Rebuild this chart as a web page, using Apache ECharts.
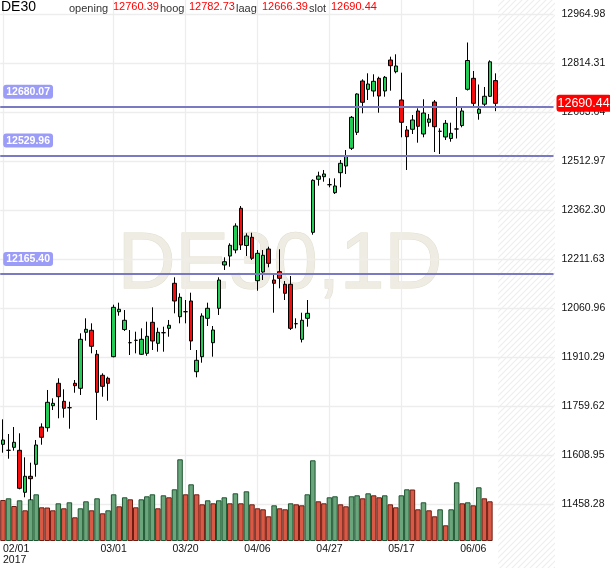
<!DOCTYPE html>
<html><head><meta charset="utf-8">
<script src="https://cdn.jsdelivr.net/npm/echarts@6/dist/echarts.min.js"></script>
<style>html,body{margin:0;padding:0;background:#fff}#c{width:610px;height:568px}</style>
</head><body><div id="c"></div>
<script>
const symbolName = 'DE30';
const timeframe = '1D';
const year = '2017';
const dates = [
'02/01','02/02','02/03','02/06','02/07','02/08','02/09','02/10','02/13','02/14',
'02/15','02/16','02/17','02/20','02/21','02/22','02/23','02/24','02/27','02/28',
'03/01','03/02','03/03','03/06','03/07','03/08','03/09','03/10','03/13','03/14',
'03/15','03/16','03/17','03/20','03/21','03/22','03/23','03/24','03/27','03/28',
'03/29','03/30','03/31','04/03','04/04','04/05','04/06','04/07','04/10','04/11',
'04/12','04/13','04/18','04/19','04/20','04/21','04/24','04/25','04/26','04/27',
'04/28','05/02','05/03','05/04','05/05','05/08','05/09','05/10','05/11','05/12',
'05/15','05/16','05/17','05/18','05/19','05/22','05/23','05/24','05/25','05/26',
'05/29','05/30','05/31','06/01','06/02','06/06','06/07','06/08','06/09','06/12'];
const futureSlots = ['','','','','','','','','',''];
const opens = [
11641.6,11623.2,11632.4,11623.2,11494.0,11543.2,11580.1,11694.8,11692.7,11760.4,
11829.3,11773.9,11754.2,11829.3,11813.9,11986.1,11992.3,11918.5,11853.9,11844.7,
11911.1,12049.5,11994.8,11954.2,11961.5,11918.5,11921.5,12016.9,11952.3,11984.9,
11998.4,12136.9,12034.1,12049.5,12082.4,11865.0,11911.1,12029.2,11954.2,12060.0,
12193.2,12220.8,12239.3,12367.6,12253.1,12278.4,12144.9,12171.6,12242.4,12147.0,
12172.6,12133.8,12133.8,12012.6,11964.6,12029.2,12293.7,12456.8,12464.8,12440.2,
12415.6,12477.1,12497.7,12552.1,12601.3,12759.1,12733.6,12728.4,12767.4,12728.4,
12823.7,12787.8,12700.7,12608.4,12610.6,12666.9,12596.1,12632.1,12694.5,12604.4,
12586.9,12582.3,12611.5,12622.3,12733.6,12767.4,12659.8,12687.8,12712.1,12760.39];
const highs = [
11718.5,11673.3,11694.8,11675.5,11601.6,11585.0,11654.9,11706.2,11808.7,11783.1,
11844.7,11810.8,11772.7,11839.4,11983.1,12029.2,12013.8,11931.7,11860.0,11849.6,
12071.0,12077.2,12054.7,11993.2,11988.0,11998.4,12018.8,12063.0,12000.3,12003.4,
12024.0,12155.3,12106.1,12085.5,12108.0,11931.7,12044.6,12077.2,12005.5,12155.3,
12216.8,12259.9,12321.4,12374.6,12290.7,12292.5,12239.3,12239.3,12249.4,12167.6,
12241.5,12143.9,12159.3,12029.2,12046.4,12085.5,12456.8,12480.2,12485.4,12459.8,
12459.8,12516.1,12546.9,12651.5,12721.3,12764.4,12782.8,12779.8,12772.4,12774.5,
12833.9,12841.3,12784.7,12620.7,12654.6,12675.2,12702.9,12657.6,12700.7,12613.7,
12639.2,12630.9,12709.9,12678.2,12877.6,12789.9,12748.4,12740.7,12822.8,12782.73];
const lows = [
11615.8,11597.3,11622.0,11503.2,11478.6,11470.3,11542.0,11640.4,11680.4,11747.1,
11721.6,11723.5,11689.6,11800.3,11793.3,11960.3,11921.5,11716.4,11788.1,11775.7,
11909.2,12037.2,11990.1,11916.3,11921.5,11916.3,11914.0,11931.7,11926.5,11926.5,
11972.6,12044.6,12013.8,12013.8,11931.7,11847.7,11892.6,12005.5,11911.1,12039.4,
12177.8,12187.9,12229.2,12239.3,12220.8,12208.5,12114.1,12147.0,12186.1,12046.4,
12121.5,12085.5,11993.2,11998.4,11955.0,12003.4,12286.4,12437.1,12449.4,12432.2,
12411.6,12432.2,12473.1,12546.9,12593.0,12659.8,12700.7,12710.9,12661.6,12710.9,
12729.3,12782.8,12586.0,12485.4,12596.1,12569.4,12586.0,12618.6,12540.7,12534.6,
12577.7,12572.4,12582.3,12616.7,12729.9,12681.3,12640.1,12681.3,12709.9,12666.39];
const closes = [
11654.9,11623.2,11647.8,11506.3,11543.2,11535.8,11639.5,11663.2,11770.8,11767.7,
11788.1,11752.4,11754.2,11821.9,11964.6,11995.4,11943.1,11801.6,11820.0,11829.3,
12063.0,12056.9,12023.1,11954.2,11961.5,11964.6,11973.8,11959.4,11986.1,11984.9,
12007.7,12082.4,12093.8,12049.5,11959.4,11900.0,12036.3,12060.0,11993.2,12147.0,
12203.3,12253.8,12313.1,12254.7,12282.4,12213.8,12229.1,12223.0,12198.4,12136.9,
12152.2,12106.1,11998.4,12012.6,12023.1,12044.6,12453.7,12466.9,12473.1,12440.2,
12436.2,12506.0,12528.4,12647.5,12719.2,12693.6,12749.9,12758.2,12713.0,12770.5,
12806.2,12805.3,12632.1,12587.8,12639.2,12619.8,12660.7,12642.3,12618.6,12604.4,
12629.0,12598.3,12611.5,12666.9,12822.2,12690.5,12672.4,12712.1,12818.2,12690.44];
const volumes = [
4100,4270,3500,4070,3070,4170,4670,3370,3350,3070,
3770,3270,3870,2370,3270,3970,3070,4270,2770,3070,
4670,3470,4370,4170,3370,4170,4470,4670,3270,4570,
4370,5170,8170,4670,5670,4670,3670,4070,3770,4070,
4370,3770,4770,3770,4970,3670,3270,3170,2470,3570,
3270,3170,3770,3670,3570,4670,8070,3970,3770,4370,
4470,3670,3470,4470,4570,4270,4770,4570,4370,4570,
3670,3370,4570,5170,5150,3170,3870,3070,2470,3170,
1570,3170,5870,3770,3870,3570,5370,4270,3970];
const levelLines = [12680.07, 12529.96, 12165.40];
const priceTicks = [11458.28,11608.95,11759.62,11910.29,12060.96,12211.63,12362.30,12512.97,12663.64,12814.31,12964.98];
const labelDates = ['02/01','03/01','03/20','04/06','04/27','05/17','06/06'];

const FONT = 'Liberation Sans, Arial, sans-serif';
const categories = dates.concat(futureSlots);
const candleData = dates.map((d, i) => [opens[i], closes[i], lows[i], highs[i]]);
const volData = volumes.map((v, i) => {
  const up = i > 0 && v > volumes[i - 1];
  return {value: v, itemStyle: up ? {color: '#6ba57c', borderColor: '#1d5530'} : {color: '#d85a46', borderColor: '#6e1c12'}};
});
const last = dates.length - 1;

const chart = echarts.init(document.getElementById('c'), null, {renderer: 'canvas'});

function headerItems() {
  const items = [
    {t: symbolName, x: 1, y: 7.5, size: 14, fill: '#000'},
    {t: 'opening', x: 69, y: 9.4, size: 11, fill: '#333'},
    {t: opens[last].toFixed(2), x: 113, y: 6.8, size: 11, fill: '#ff0000'},
    {t: 'hoog', x: 160, y: 9.4, size: 11, fill: '#333'},
    {t: highs[last].toFixed(2), x: 189, y: 6.8, size: 11, fill: '#ff0000'},
    {t: 'laag', x: 236, y: 9.4, size: 11, fill: '#333'},
    {t: lows[last].toFixed(2), x: 262, y: 6.8, size: 11, fill: '#ff0000'},
    {t: 'slot', x: 309, y: 9.4, size: 11, fill: '#333'},
    {t: closes[last].toFixed(2), x: 331, y: 6.8, size: 11, fill: '#ff0000'}
  ];
  return items.map(o => ({
    type: 'text', x: o.x, y: o.y, z: 10, silent: true,
    style: {text: o.t, fill: o.fill, fontSize: o.size, fontFamily: FONT, align: 'left', verticalAlign: 'middle'}
  }));
}

const option = {
  animation: false,
  backgroundColor: '#fff',
  grid: {left: -0.92, right: 56.5, top: 0, bottom: 27, containLabel: false},
  xAxis: {
    type: 'category', data: categories, boundaryGap: true,
    axisLine: {show: false}, axisTick: {show: false}, splitLine: {show: false},
    axisLabel: {
      interval: (idx, val) => labelDates.indexOf(val) >= 0,
      formatter: (val, idx) => idx === 0 ? val + '\n' + year : val,
      alignMinLabel: 'left',
      fontSize: 10.5, lineHeight: 10.5, color: '#111', fontFamily: FONT, margin: 3
    }
  },
  yAxis: [{
    type: 'value', position: 'right', min: 11344.2, max: 13008.3, scale: true,
    axisLine: {show: false}, axisTick: {show: false}, splitLine: {show: false},
    axisLabel: {customValues: priceTicks, formatter: v => v.toFixed(2), fontSize: 10.5, color: '#111', fontFamily: FONT, margin: 8}
  }, {
    type: 'value', min: 0, max: 54100, show: false
  }],
  graphic: [{
    type: 'text', id: 'wm', x: 280, y: 266, z: 0, silent: true,
    style: {text: symbolName + ',' + timeframe, fontSize: 80, fontFamily: FONT, fill: '#efece3', stroke: '#e2ddcf', lineWidth: 1, align: 'center', verticalAlign: 'middle'}
  }].concat(headerItems()),
  series: [{
    name: 'grid', type: 'line', data: [], z: 1, silent: true,
    markLine: {
      silent: true, symbol: ['none', 'none'], animation: false, z: 1,
      label: {show: false},
      lineStyle: {color: '#ededed', width: 1.3, type: 'solid'},
      data: priceTicks.map(v => ({yAxis: v})).concat(labelDates.map(d => ({xAxis: d})))
    }
  }, {
    name: 'volume', type: 'bar', yAxisIndex: 1, data: volData, z: 2,
    barCategoryGap: '0%', itemStyle: {borderWidth: 1}
  }, {
    name: symbolName, type: 'candlestick', data: candleData, z: 3, barWidth: 4,
    itemStyle: {color: '#23cd55', color0: '#f50d0d', borderColor: '#000', borderColor0: '#000', borderColorDoji: '#000', borderWidth: 1},
    markLine: {
      silent: true, symbol: ['none', 'none'], animation: false, z: 5,
      data: levelLines.map(v => ({
        yAxis: v,
        lineStyle: {color: '#7a7ac2', width: 2, type: 'solid'},
        label: {show: true, position: 'insideStartTop', distance: [3, 8], formatter: p => Number(p.value).toFixed(2),
          color: '#fff', fontWeight: 'bold', fontSize: 10.5, lineHeight: 11, fontFamily: FONT,
          backgroundColor: '#9b9bf8', borderRadius: 3, padding: [2, 3, 1, 3]}
      })).concat([{
        yAxis: closes[last],
        lineStyle: {color: 'rgba(255,255,255,0)', width: 1, type: 'solid'},
        label: {show: true, position: 'end', distance: 3, formatter: p => Number(p.value).toFixed(2),
          color: '#fff', fontSize: 12.5, lineHeight: 14, fontFamily: FONT, opacity: 1,
          backgroundColor: '#ff0000', borderRadius: 3, padding: [2, 2, 1, 1]}
      }])
    }
  }]
};
chart.setOption(option);

// hatched "future" area after the last bar
const pc = document.createElement('canvas');
pc.width = 6; pc.height = 6;
const g = pc.getContext('2d');
g.strokeStyle = '#eeeeee'; g.lineWidth = 1.1;
g.beginPath();
g.moveTo(-1, 7); g.lineTo(7, -1);
g.moveTo(-1, 1); g.lineTo(1, -1);
g.moveTo(5, 7); g.lineTo(7, 5);
g.stroke();
const gridRect = chart.getModel().getComponent('grid').coordinateSystem.getRect();
const xLast = chart.convertToPixel({xAxisIndex: 0}, last);
const xNext = chart.convertToPixel({xAxisIndex: 0}, last + 1);
const hatchX = (xLast + xNext) / 2;
chart.setOption({graphic: [{
  type: 'rect', id: 'hatch', z: 0, silent: true,
  shape: {x: hatchX, y: 0, width: gridRect.x + gridRect.width + 1.5 - hatchX, height: 568},
  style: {fill: {image: pc, repeat: 'repeat'}}
}]});
</script></body></html>
